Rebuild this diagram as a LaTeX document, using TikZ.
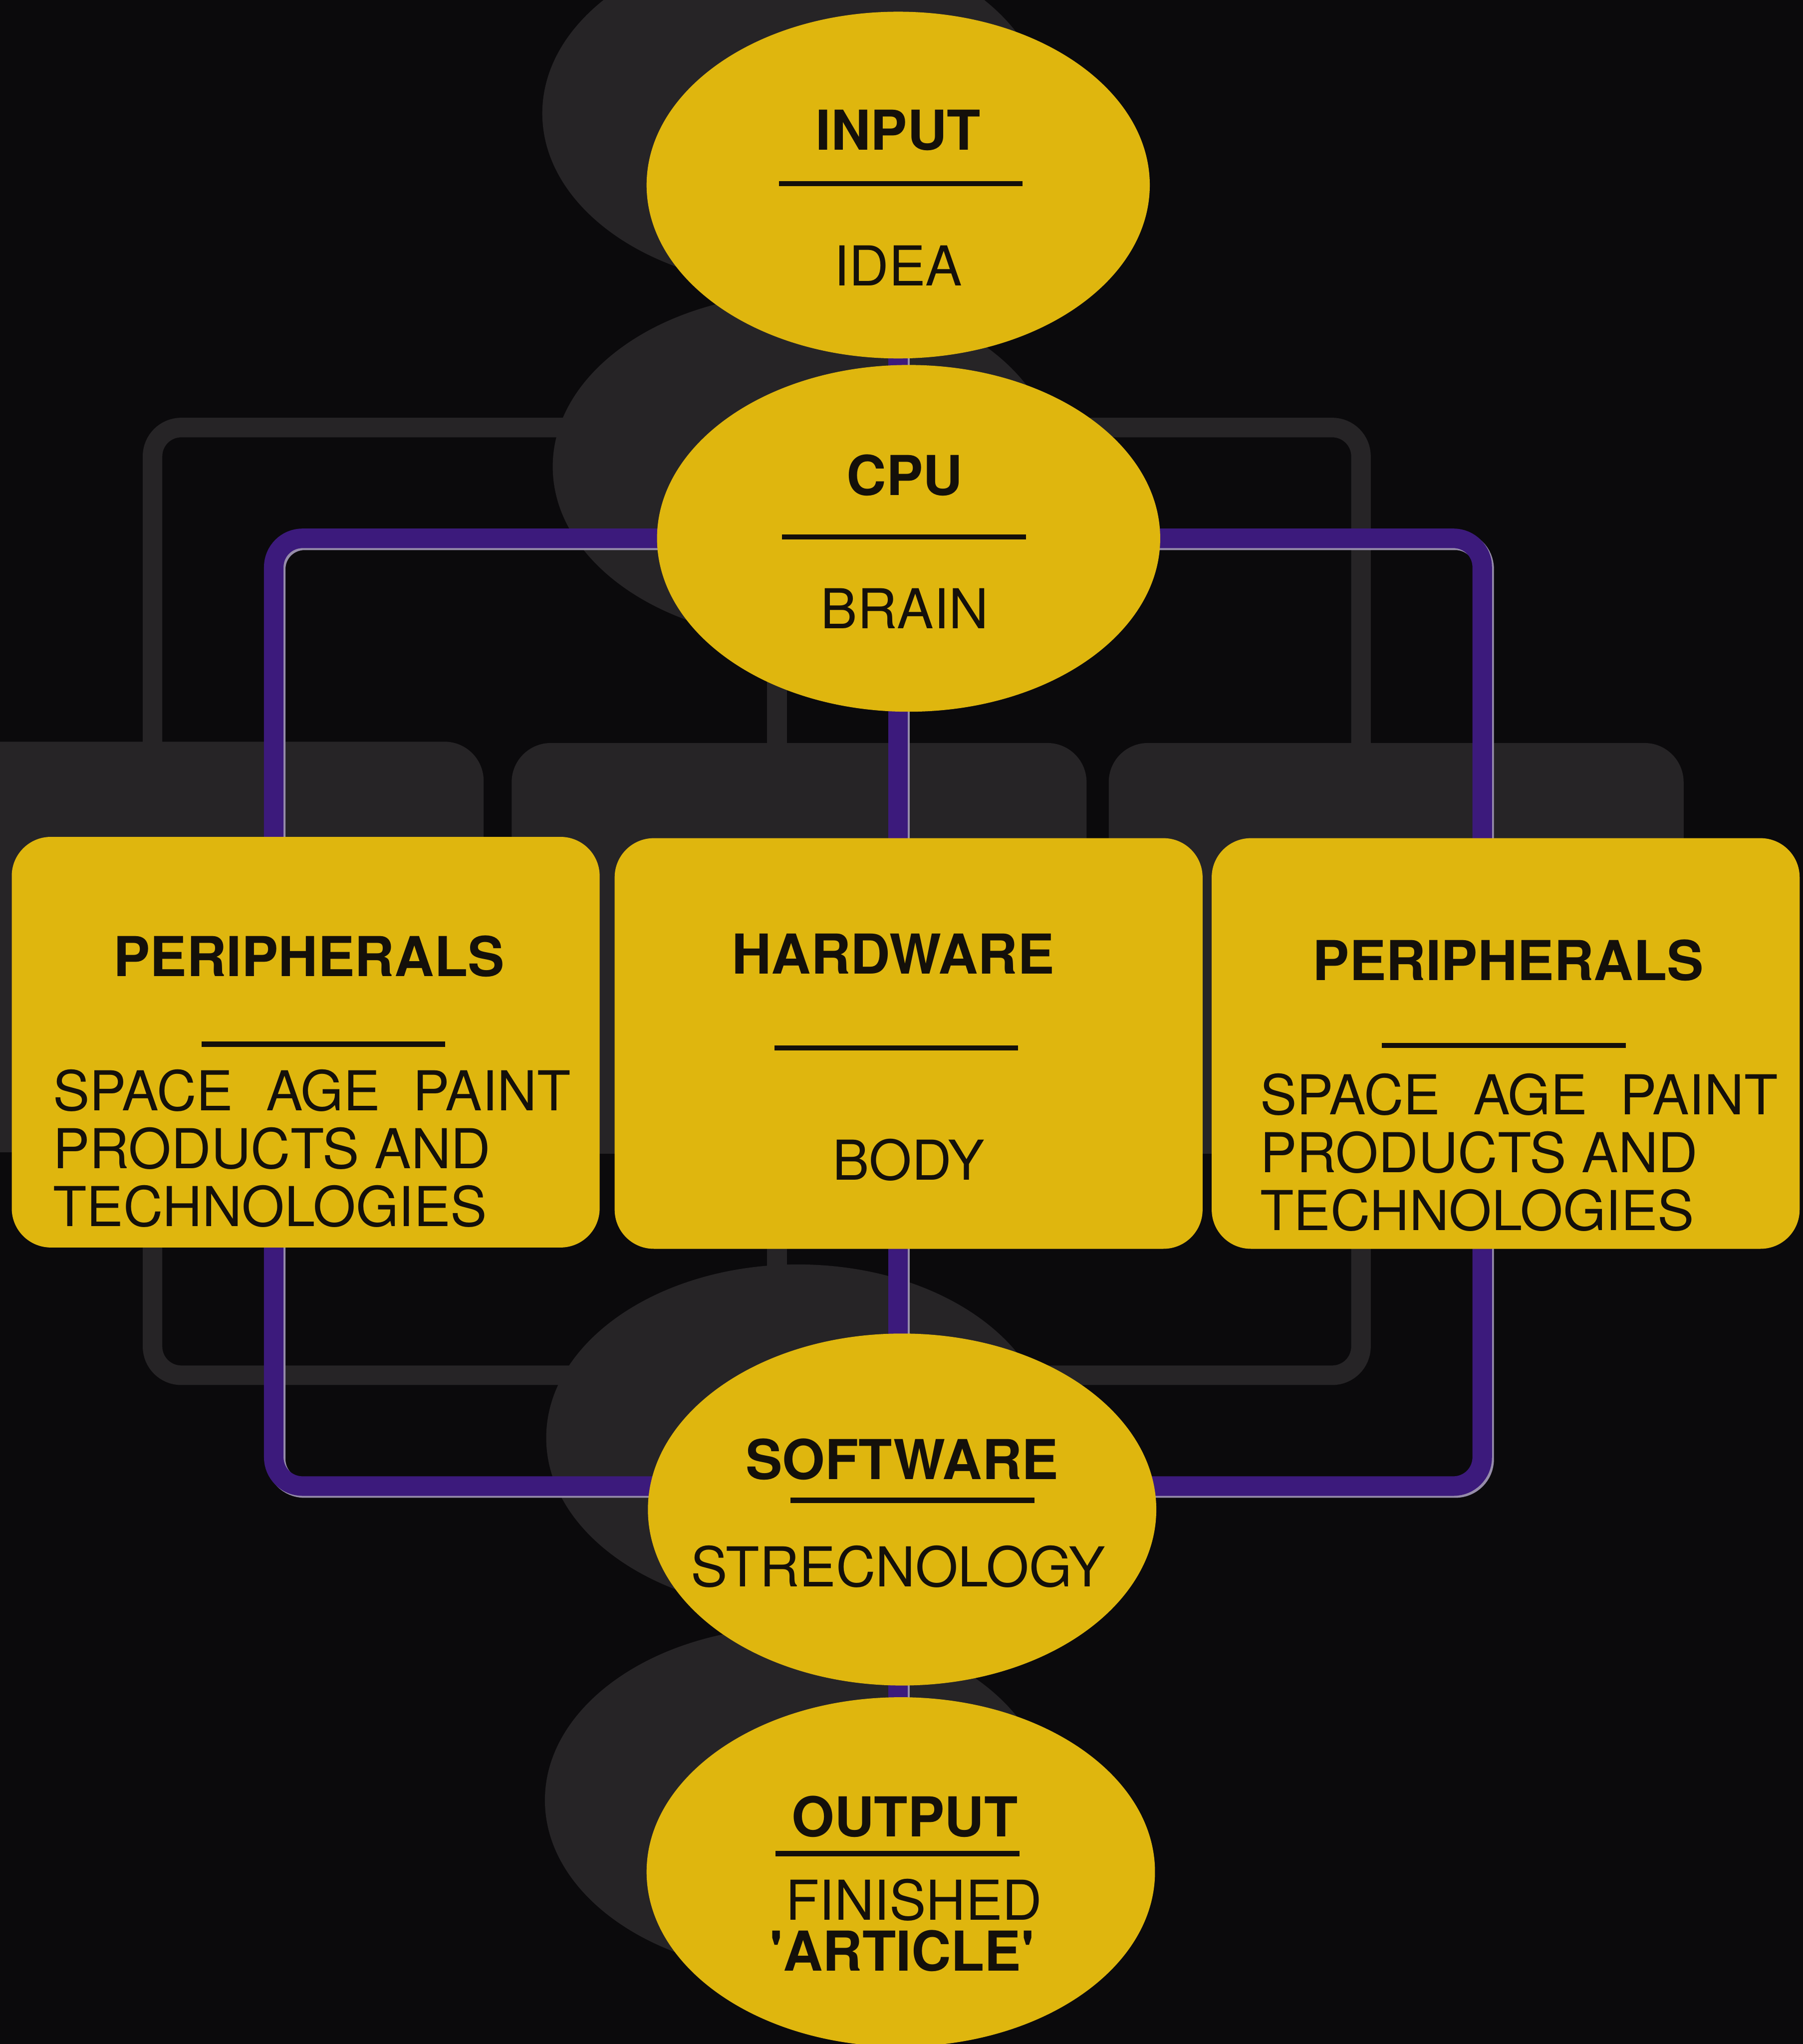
\documentclass[tikz,border=0pt]{standalone}
\usepackage{fontspec}
\setmainfont{TeX Gyre Heros}
\usetikzlibrary{shapes.geometric}

\definecolor{fond}{RGB}{11,10,12}
\definecolor{ombre}{RGB}{38,36,38}
\definecolor{jaune}{RGB}{223,182,14}
\definecolor{mauve}{RGB}{60,26,124}
\definecolor{reflet}{RGB}{150,140,170}
\definecolor{encre}{RGB}{20,16,10}

\pgfdeclarelayer{arriere}
\pgfdeclarelayer{fils}
\pgfsetlayers{arriere,fils,main}

\newcommand\peinture{\begin{tabular}[t]{@{}l@{}}\makebox[3.97cm][s]{SPACE AGE PAINT}\\PRODUCTS AND\\TECHNOLOGIES\end{tabular}}
\newcommand\reseau[1]{%
\draw[#1] (input.center) -- (input.center |- output.center);
\draw[#1] (cpu.center) -| (basG) -- (basG -| software.center);
\draw[#1] (cpu.center) -| (basD) -- (basD -| software.center);}

\begin{document}
\begin{tikzpicture}
\tikzstyle{bulle}=[ellipse,fill=jaune,minimum width=3.86cm,minimum height=2.66cm,inner sep=0pt]
\tikzstyle{boite}=[rectangle,fill=jaune,rounded corners=0.3cm,minimum width=4.51cm,minimum height=3.15cm,inner sep=0pt]
\tikzstyle{trait}=[rectangle,fill=encre,minimum width=1.87cm,minimum height=0.04cm,inner sep=0pt]
\tikzstyle{texte}=[anchor=base,inner sep=0pt,text=encre,font=\fontsize{12}{12.2}\selectfont]
\tikzstyle{titre}=[texte,font=\fontsize{12}{12.2}\selectfont\bfseries]
\tikzstyle{bloc}=[texte,anchor=base west]
\tikzstyle{fil}=[line width=0.15cm,rounded corners=0.22cm]

\useasboundingbox (0,0) rectangle (13.83,15.68);

\node[bulle] (input) at (6.89,14.26) {};
\node[titre] (input-titre) at (6.89,14.53) {INPUT};
\node[trait] (input-trait) at (6.91,14.27) {};
\node[texte] (input-texte) at (6.89,13.49) {IDEA};

\node[bulle] (cpu) at (6.97,11.55) {};
\node[titre] (cpu-titre) at (6.94,11.88) {CPU};
\node[trait] (cpu-trait) at (6.935,11.56) {};
\node[texte] (cpu-texte) at (6.94,10.86) {BRAIN};

\node[boite] (perG) at (2.345,7.685) {};
\node[titre] (perG-titre) at (2.37,8.19) {PERIPHERALS};
\node[trait] (perG-trait) at (2.48,7.67) {};
\node[bloc] (perG-texte) at (0.40,7.16) {\peinture};

\node[boite] (hardware) at (6.97,7.675) {};
\node[titre] (hardware-titre) at (6.85,8.21) {HARDWARE};
\node[trait] (hardware-trait) at (6.875,7.64) {};
\node[texte] (hardware-texte) at (6.97,6.63) {BODY};

\node[boite] (perD) at (11.55,7.675) {};
\node[titre] (perD-titre) at (11.57,8.16) {PERIPHERALS};
\node[trait] (perD-trait) at (11.535,7.66) {};
\node[bloc] (perD-texte) at (9.66,7.13) {\peinture};

\node[bulle,minimum width=3.9cm,minimum height=2.7cm] (software) at (6.92,4.10) {};
\node[titre] (software-titre) at (6.92,4.33) {SOFTWARE};
\node[trait] (software-trait) at (7.00,4.17) {};
\node[texte] (software-texte) at (6.89,3.51) {STRECNOLOGY};

\node[bulle,minimum width=3.9cm,minimum height=2.68cm] (output) at (6.91,1.32) {};
\node[titre] (output-titre) at (6.94,1.59) {OUTPUT};
\node[trait] (output-trait) at (6.885,1.46) {};
\node[texte] (output-texte) at (7.01,0.95) {FINISHED};
\node[titre] (output-article) at (6.92,0.56) {\textquotesingle ARTICLE\textquotesingle};

\coordinate (basG) at (2.10,4.28);
\coordinate (basD) at (11.37,4.28);

\begin{pgfonlayer}{arriere}
\fill[fond] (0,0) rectangle (13.83,15.68);
\foreach \n in {input,cpu,software,output}
  \node[bulle,fill=ombre] (\n-ombre) at ([shift={(-0.80,0.55)}]\n.center) {};
\foreach \n in {perG,hardware,perD}
  \node[boite,fill=ombre,minimum width=4.41cm] (\n-ombre) at ([shift={(-0.84,0.73)}]\n.center) {};
\begin{scope}[transform canvas={shift={(-0.93,0.85)}}]
\reseau{fil,draw=ombre}
\end{scope}
\end{pgfonlayer}

\begin{pgfonlayer}{fils}
\begin{scope}[transform canvas={shift={(0.015,-0.015)}}]
\reseau{fil,draw=reflet}
\end{scope}
\reseau{fil,draw=mauve}
\end{pgfonlayer}
\end{tikzpicture}
\end{document}
